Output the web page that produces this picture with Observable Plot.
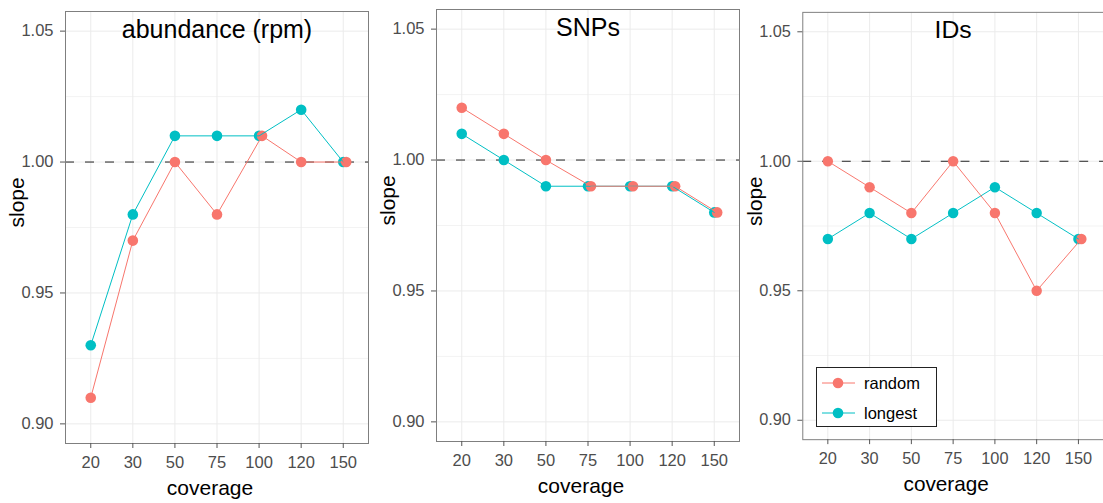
<!DOCTYPE html>
<html>
<head>
<meta charset="utf-8">
<script src="https://cdn.jsdelivr.net/npm/d3@7"></script>
<script src="https://cdn.jsdelivr.net/npm/@observablehq/plot@0.6"></script>
<style>
  html, body { margin: 0; padding: 0; background: #fff; }
  #root { position: relative; width: 1103px; height: 503px; overflow: hidden; background: #fff;
          font-family: "Liberation Sans", Arial, Helvetica, sans-serif; }
  .panel { position: absolute; top: 0; }
  #legend { position: absolute; left: 816px; top: 367px; width: 121px; height: 60px; box-sizing: border-box;
            border: 1px solid #222; background: #fff; }
</style>
</head>
<body>
<div id="root"></div>
<script>
// ---- data ----
const coverage = [20, 30, 50, 75, 100, 120, 150];
const panelTitles = ["abundance (rpm)", "SNPs", "IDs"];
const methods = ["random", "longest"];
const abundanceRandom  = [0.91, 0.97, 1.00, 0.98, 1.01, 1.00, 1.00];
const abundanceLongest = [0.93, 0.98, 1.01, 1.01, 1.01, 1.02, 1.00];
const snpsRandom  = [1.02, 1.01, 1.00, 0.99, 0.99, 0.99, 0.98];
const snpsLongest = [1.01, 1.00, 0.99, 0.99, 0.99, 0.99, 0.98];
const idsRandom  = [1.00, 0.99, 0.98, 1.00, 0.98, 0.95, 0.97];
const idsLongest = [0.97, 0.98, 0.97, 0.98, 0.99, 0.98, 0.97];
const yTicks = [0.90, 0.95, 1.00, 1.05];
const yMinor = [0.925, 0.975, 1.025];
const reference = 1.00;

const seriesByPanel = [
  {random: abundanceRandom, longest: abundanceLongest},
  {random: snpsRandom, longest: snpsLongest},
  {random: idsRandom, longest: idsLongest}
];

const colors = ["#F8766D", "#00BFC4"];
const font = '"Liberation Sans", Arial, Helvetica, sans-serif';

// layout of the three panels
const layout = [
  {left: 0,   marginLeft: 65, marginRight: 2, marginTop: 11, marginBottom: 60},
  {left: 370, marginLeft: 66, marginRight: 1, marginTop: 9,  marginBottom: 62},
  {left: 737, marginLeft: 66, marginRight: 0, marginTop: 12, marginBottom: 59}
];

const root = document.getElementById("root");
const idx = d3.range(coverage.length);

panelTitles.forEach((title, p) => {
  const s = seriesByPanel[p];
  const rows = [];
  idx.forEach(i => rows.push({method: "longest", xi: i, y: s.longest[i]}));
  // overlapping "random" points are nudged slightly to the right (as in the original)
  idx.forEach(i => rows.push({method: "random", xi: i + (s.random[i] === s.longest[i] ? 0.07 : 0), y: s.random[i]}));
  const L = layout[p];
  const chart = Plot.plot({
    width: 370, height: 503,
    marginLeft: L.marginLeft, marginRight: L.marginRight, marginTop: L.marginTop, marginBottom: L.marginBottom,
    x: {type: "linear", domain: [-0.6, coverage.length - 0.4]},
    y: {domain: [0.8925, 1.0575]},
    color: {domain: methods, range: colors},
    style: {fontFamily: font, fontSize: "16.5px", color: "#4d4d4d", background: "transparent", overflow: "visible"},
    marks: [
      Plot.gridY(yMinor, {stroke: "#f3f3f3", strokeOpacity: 1}),
      Plot.gridY(yTicks, {stroke: "#ebebeb", strokeOpacity: 1}),
      Plot.gridX(idx, {stroke: "#ebebeb", strokeOpacity: 1}),
      Plot.ruleY([reference], {stroke: "#222", strokeWidth: 1, strokeDasharray: "9,11"}),
      Plot.dot(rows.filter(d => d.method === "longest"), {x: "xi", y: "y", r: 5.3, fill: "method", stroke: null}),
      Plot.dot(rows.filter(d => d.method === "random"), {x: "xi", y: "y", r: 5.3, fill: "method", stroke: null}),
      Plot.line(rows, {x: "xi", y: "y", z: "method", stroke: "method", strokeWidth: 1}),
      Plot.frame({stroke: "#7f7f7f"}),
      Plot.axisY(yTicks, {tickFormat: d3.format(".2f"), tickSize: 5, tickPadding: 7, stroke: "#555", label: null}),
      Plot.axisX(idx, {tickFormat: i => coverage[i], tickSize: 5, tickPadding: 8, stroke: "#555", label: null}),
      Plot.text([title], {text: d => d, frameAnchor: "top", lineAnchor: "middle", dy: 18, fontSize: 25, fill: "black"}),
      Plot.text(["coverage"], {text: d => d, frameAnchor: "bottom", lineAnchor: "middle", dx: -7, dy: 45, fontSize: 21, fill: "black"}),
      Plot.text(["slope"], {text: d => d, frameAnchor: "left", rotate: -90, lineAnchor: "middle", dx: -48, fontSize: 21, fill: "black"})
    ]
  });
  const div = document.createElement("div");
  div.className = "panel";
  div.style.left = L.left + "px";
  div.appendChild(chart);
  root.appendChild(div);
});

// legend (inside the IDs panel)
const legend = document.createElement("div");
legend.id = "legend";
root.appendChild(legend);
const lsvg = d3.select(legend).append("svg").attr("width", 119).attr("height", 58)
  .style("font-family", font);
methods.forEach((m, k) => {
  const y = 15 + k * 30;
  lsvg.append("line").attr("x1", 5).attr("x2", 38).attr("y1", y).attr("y2", y)
    .attr("stroke", colors[k]).attr("stroke-width", 1);
  lsvg.append("circle").attr("cx", 21).attr("cy", y).attr("r", 5.3).attr("fill", colors[k]);
  lsvg.append("text").attr("x", 47).attr("y", y).attr("dy", "0.35em").attr("font-size", 16.5)
    .attr("fill", "black").text(m);
});
</script>
</body>
</html>
